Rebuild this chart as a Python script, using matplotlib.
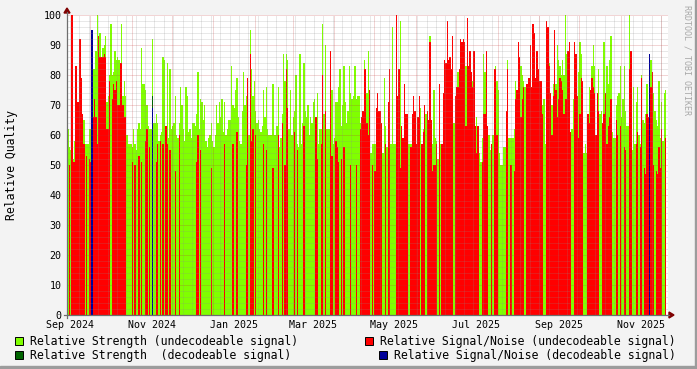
import numpy as np
import matplotlib
matplotlib.use("Agg")
import matplotlib.pyplot as plt
from matplotlib.patches import Rectangle, Polygon
from matplotlib.lines import Line2D

W, H = 697, 369
plt.rcParams["font.family"] = ["DejaVu Sans Mono"]

# ---- data (one value per day) ----
first_day = np.datetime64("2024-09-14")
origin = np.datetime64("2024-09-01")

strength_undec = [
    62, 56, 55, 55, 52, 58, 60, 60, 60, 60,
    60, 67, 65, 57, 57, 57, 62, 62, 60, 82,
    82, 88, 100, 88, 94, 86, 89, 90, 93, 71,
    73, 80, 97, 80, 81, 88, 85, 86, 85, 84,
    97, 73, 78, 73, 60, 57, 57, 57, 56, 62,
    57, 55, 62, 64, 62, 89, 77, 77, 75, 70,
    63, 62, 62, 92, 64, 64, 67, 64, 58, 60,
    61, 86, 85, 62, 84, 59, 82, 62, 63, 64,
    73, 60, 59, 64, 76, 70, 62, 58, 76, 73,
    61, 62, 59, 64, 64, 63, 67, 81, 62, 72,
    71, 65, 70, 58, 56, 59, 60, 64, 58, 56,
    60, 70, 64, 71, 66, 72, 61, 71, 60, 62,
    65, 65, 83, 70, 69, 75, 79, 66, 58, 57,
    68, 81, 70, 73, 79, 60, 95, 82, 73, 78,
    68, 64, 65, 62, 61, 63, 75, 66, 76, 62,
    60, 60, 60, 77, 60, 60, 63, 76, 56, 59,
    67, 87, 78, 87, 85, 62, 75, 60, 66, 68,
    80, 57, 56, 87, 57, 64, 84, 68, 66, 70,
    60, 66, 64, 71, 72, 58, 74, 57, 62, 62,
    97, 67, 90, 62, 62, 62, 62, 75, 57, 59,
    71, 71, 76, 82, 63, 70, 83, 71, 64, 68,
    83, 74, 72, 73, 83, 72, 73, 73, 64, 64,
    64, 85, 78, 74, 88, 54, 54, 57, 57, 57,
    57, 57, 57, 66, 59, 54, 79, 63, 56, 56,
    56, 57, 96, 57, 57, 57, 57, 49, 98, 57,
    57, 71, 57, 57, 57, 57, 57, 57, 61, 57,
    57, 57, 57, 69, 57, 62, 70, 67, 57, 57,
    93, 57, 57, 75, 59, 58, 52, 63, 57, 57,
    57, 57, 57, 57, 57, 60, 75, 70, 64, 57,
    57, 81, 57, 57, 57, 57, 57, 83, 57, 57,
    66, 57, 78, 57, 57, 66, 54, 54, 51, 59,
    87, 81, 57, 57, 60, 55, 55, 60, 55, 83,
    78, 75, 54, 50, 50, 56, 56, 68, 85, 59,
    59, 59, 59, 62, 78, 65, 72, 72, 83, 80,
    78, 76, 57, 52, 70, 57, 57, 88, 85, 79,
    78, 75, 57, 67, 70, 72, 57, 57, 57, 84,
    57, 70, 77, 80, 77, 90, 85, 83, 80, 85,
    80, 100, 87, 57, 57, 57, 62, 72, 72, 57,
    59, 81, 91, 87, 57, 54, 57, 54, 57, 76,
    71, 83, 90, 83, 57, 68, 82, 67, 68, 57,
    91, 51, 83, 77, 85, 93, 61, 59, 59, 70,
    73, 74, 83, 66, 72, 83, 68, 63, 63, 100,
    60, 55, 76, 57, 71, 76, 60, 57, 80, 65,
    64, 67, 77, 66, 57, 85, 81, 74, 68, 65,
    63, 78, 59, 71, 58, 74, 75,
]

snr_undec = [
    0, 50, 0, 100, 51, 51, 83, 71, 71, 92,
    79, 67, 57, 0, 53, 0, 52, 51, 0, 66,
    72, 66, 57, 93, 86, 86, 86, 87, 86, 62,
    62, 78, 0, 72, 77, 75, 78, 70, 70, 84,
    84, 70, 66, 66, 0, 0, 0, 0, 51, 0,
    50, 0, 0, 53, 0, 51, 0, 0, 58, 62,
    0, 56, 0, 0, 0, 0, 51, 57, 0, 58,
    0, 57, 0, 63, 57, 0, 55, 0, 0, 0,
    48, 0, 0, 60, 0, 0, 0, 0, 0, 0,
    0, 0, 0, 0, 0, 0, 51, 60, 0, 55,
    0, 0, 0, 0, 0, 0, 0, 49, 0, 0,
    0, 0, 0, 0, 0, 0, 0, 57, 0, 0,
    0, 0, 0, 57, 0, 0, 61, 0, 0, 0,
    0, 0, 0, 50, 79, 0, 87, 58, 62, 0,
    60, 0, 0, 0, 0, 0, 57, 0, 55, 0,
    0, 0, 0, 49, 0, 0, 0, 60, 0, 0,
    64, 0, 50, 82, 69, 0, 0, 0, 0, 61,
    0, 55, 0, 0, 0, 0, 63, 0, 0, 0,
    0, 0, 0, 0, 0, 66, 52, 0, 0, 57,
    80, 0, 68, 0, 0, 0, 88, 53, 0, 0,
    58, 56, 51, 0, 52, 0, 56, 0, 0, 0,
    0, 50, 0, 0, 0, 50, 0, 0, 62, 66,
    68, 82, 82, 64, 60, 75, 0, 50, 0, 48,
    69, 74, 68, 68, 64, 0, 0, 57, 0, 71,
    82, 0, 0, 0, 0, 100, 73, 82, 49, 63,
    59, 77, 67, 67, 0, 0, 56, 67, 73, 68,
    57, 66, 73, 0, 57, 61, 70, 0, 68, 65,
    91, 65, 48, 50, 50, 57, 0, 77, 0, 57,
    74, 85, 84, 98, 85, 86, 82, 93, 0, 73,
    76, 76, 82, 92, 91, 92, 91, 63, 99, 83,
    88, 81, 76, 88, 63, 54, 63, 0, 0, 51,
    67, 67, 88, 63, 0, 0, 57, 0, 82, 82,
    60, 0, 0, 0, 0, 0, 0, 68, 82, 0,
    50, 50, 0, 48, 72, 75, 91, 86, 66, 72,
    76, 0, 77, 77, 79, 90, 76, 97, 94, 79,
    88, 82, 78, 78, 67, 0, 0, 98, 96, 83,
    74, 60, 73, 95, 75, 66, 72, 79, 78, 75,
    67, 72, 72, 88, 91, 61, 0, 0, 91, 87,
    73, 59, 67, 79, 78, 0, 0, 0, 67, 64,
    75, 79, 76, 74, 60, 74, 68, 0, 0, 64,
    67, 74, 57, 63, 66, 72, 0, 0, 0, 65,
    60, 0, 63, 0, 0, 56, 55, 0, 0, 82,
    88, 0, 0, 0, 57, 61, 0, 56, 79, 0,
    49, 47, 67, 66, 0, 76, 81, 50, 0, 48,
    47, 56, 49, 62, 0, 0, 59,
]

strength_dec_days = ["2024-11-16"]
strength_dec_vals = [73]
snr_dec_days = ["2024-10-02", "2024-11-16", "2025-11-22"]
snr_dec_vals = [95, 69, 87]

label_months = ["2024-09", "2024-11", "2025-01", "2025-03",
                "2025-05", "2025-07", "2025-09", "2025-11"]
label_texts = ["Sep 2024", "Nov 2024", "Jan 2025", "Mar 2025",
               "May 2025", "Jul 2025", "Sep 2025", "Nov 2025"]
y_ticks = list(range(0, 101, 10))

legend_labels = ["Relative Strength (undecodeable signal)",
                 "Relative Strength  (decodeable signal)",
                 "Relative Signal/Noise (undecodeable signal)",
                 "Relative Signal/Noise (decodeable signal)"]

c_green = "#80FF00"
c_dkgreen = "#006400"
c_red = "#FF0000"
c_blue = "#000099"


def day(d):
    return int((np.datetime64(d, "D") - origin).astype(int))


start = day(first_day)
n = len(strength_undec)
edges = start + np.arange(n + 1)


def sparse(days, vals):
    arr = np.zeros(n)
    for d, v in zip(days, vals):
        arr[day(d) - start] = v
    return arr


fig = plt.figure(figsize=(W / 100, H / 100), dpi=100, facecolor="#F3F3F3")
ax = fig.add_axes([67 / W, (H - 315) / H, 601 / W, 300 / H])
ax.set_facecolor("white")

ax.stairs(strength_undec, edges, fill=True, color=c_green, lw=0, zorder=1)
ax.stairs(snr_undec, edges, fill=True, color=c_red, lw=0, zorder=1.1)
ax.stairs(sparse(strength_dec_days, strength_dec_vals), edges, fill=True,
          color=c_dkgreen, lw=0, zorder=1.2)
ax.stairs(sparse(snr_dec_days, snr_dec_vals), edges, fill=True,
          color=c_blue, lw=0, zorder=1.3)

x0 = 15 - 3 / 1.3404
x1 = 15 + 598 / 1.3404
ax.set_xlim(x0, x1)
ax.set_ylim(0, 100)

# grid (drawn over the data, rrdtool style)
dots = (0, (1, 1))
for v in range(2, 101, 2):
    if v % 10:
        ax.axhline(v, color="#8C8C8C", alpha=0.4, lw=0.72, ls=dots, zorder=3)
    else:
        ax.axhline(v, color="#C03030", alpha=0.4, lw=0.72, ls=dots, zorder=3)
mondays = np.arange(np.datetime64("2024-09-02"), np.datetime64("2025-12-31"), 7)
for m in mondays:
    ax.axvline(day(m), color="#8C8C8C", alpha=0.4, lw=0.72, ls=dots, zorder=3)
months = np.arange(np.datetime64("2024-10"), np.datetime64("2026-01"),
                   dtype="datetime64[M]")
for m in months:
    ax.axvline(day(m), color="#C03030", alpha=0.4, lw=0.72, ls=dots, zorder=3)

for s in ax.spines.values():
    s.set_visible(False)

ax.set_xticks([day(m) + 15 for m in label_months], label_texts)
ax.set_yticks(y_ticks, [str(v) for v in y_ticks])
ax.tick_params(length=0, labelsize=7.2, pad=3.8)


def fx(px):
    return px / W


def fy(py):
    return 1 - py / H


# axes with arrows
fig.add_artist(Line2D([fx(64), fx(669)], [fy(315), fy(315)], color="#6E6E6E", lw=0.9))
fig.add_artist(Line2D([fx(67), fx(67)], [fy(318), fy(12)], color="#6E6E6E", lw=0.9))
fig.add_artist(Polygon([[fx(669), fy(312)], [fx(669), fy(318)], [fx(674), fy(315)]],
                       closed=True, color="#7F0000", transform=fig.transFigure))
fig.add_artist(Polygon([[fx(64), fy(13)], [fx(70), fy(13)], [fx(67), fy(8)]],
                       closed=True, color="#7F0000", transform=fig.transFigure))

fig.text(fx(12), fy(165), "Relative Quality", rotation=90, ha="center",
         va="center", fontsize=8.3)
fig.text(fx(687), fy(60), "RRDTOOL / TOBI OETIKER", rotation=270, ha="center",
         va="center", fontsize=6, color="#A8A8A8")

# legend
legend_pos = [(15, 341, 30), (15, 355, 30), (365, 341, 380), (379, 355, 394)]
legend_cols = [c_green, c_dkgreen, c_red, c_blue]
for (bx, cy, tx), col, lab in zip(legend_pos, legend_cols, legend_labels):
    fig.add_artist(Rectangle((fx(bx), fy(cy + 4)), 8 / W, 8 / H, facecolor=col,
                             edgecolor="black", lw=0.7, transform=fig.transFigure))
    fig.text(fx(tx), fy(cy), lab, ha="left", va="center", fontsize=8.3)

# frame shading
fig.add_artist(Rectangle((fx(695), 0), 2 / W, 1, color="#9C9C9C", transform=fig.transFigure))
fig.add_artist(Rectangle((0, 0), 1, 3 / H, color="#9C9C9C", transform=fig.transFigure))

fig.savefig("out.png", dpi=100, facecolor=fig.get_facecolor())
